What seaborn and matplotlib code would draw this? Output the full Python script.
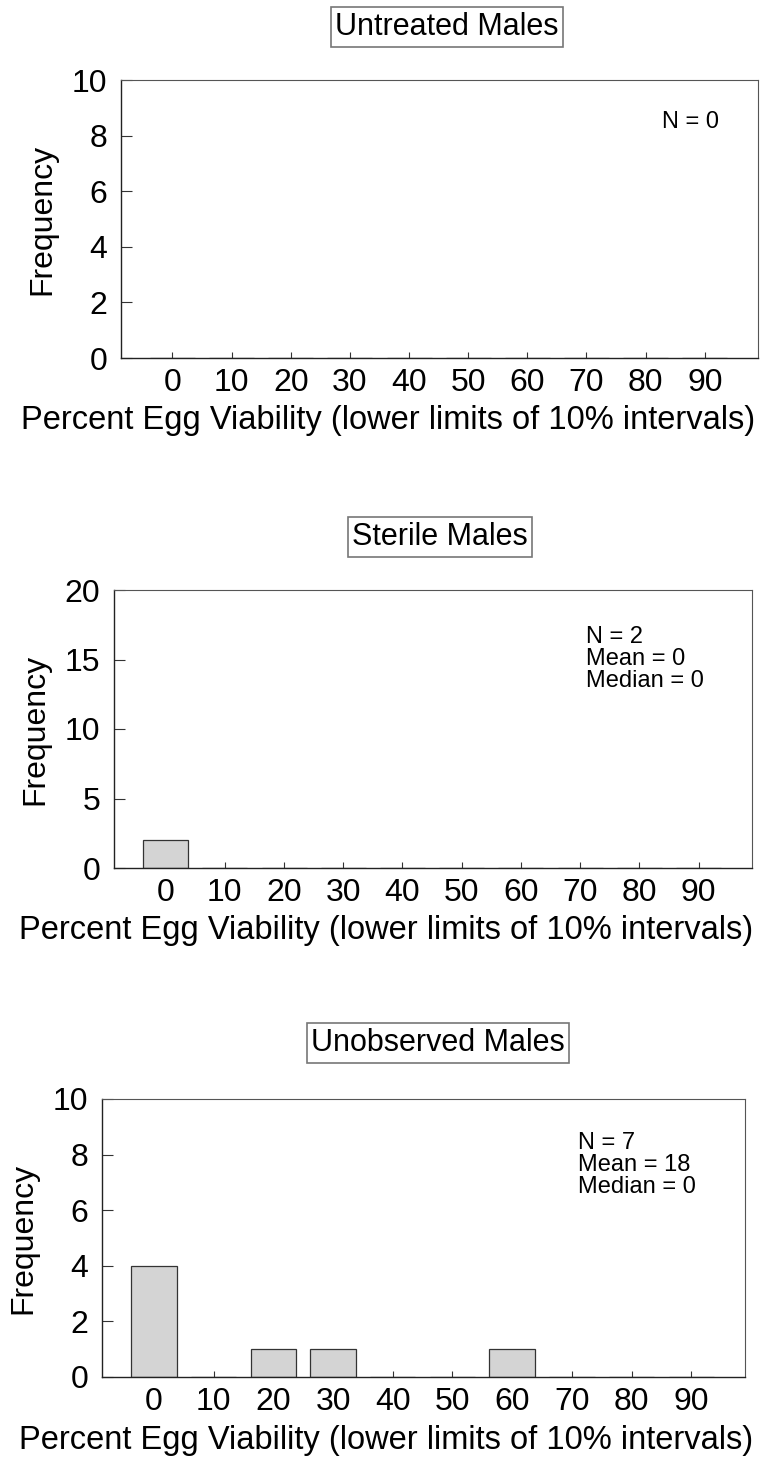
import matplotlib
matplotlib.use("Agg")
import matplotlib.pyplot as plt
import seaborn as sns
import pandas as pd

sns.set_theme(style="white")
plt.rcParams['font.family'] = ['Liberation Sans', 'DejaVu Sans']

categories = ["0", "10", "20", "30", "40", "50", "60", "70", "80", "90"]
untreated = [0, 0, 0, 0, 0, 0, 0, 0, 0, 0]
sterile = [2, 0, 0, 0, 0, 0, 0, 0, 0, 0]
unobserved = [4, 0, 1, 1, 0, 0, 1, 0, 0, 0]

titles = ["Untreated Males", "Sterile Males", "Unobserved Males"]
stats = ["N = 0", "N = 2\nMean = 0\nMedian = 0", "N = 7\nMean = 18\nMedian = 0"]
ymax = [10, 20, 10]
ystep = [2, 5, 2]
series = [untreated, sterile, unobserved]

W, H = 765, 1470
fig = plt.figure(figsize=(W / 100, H / 100), dpi=100)

# pixel boxes: left, right, top, bottom
boxes = [(121, 758, 80, 358), (114, 752, 590, 868), (102, 745, 1099, 1377)]
title_pos = [(447, 27), (440, 537), (438, 1043)]
stat_pos = [(0.85, 0.89), (0.74, 0.87), (0.74, 0.88)]
xlabel_cx = [388, 386, 386]

for i in range(3):
    l, r, t, b = boxes[i]
    ax = fig.add_axes([l / W, 1 - b / H, (r - l) / W, (b - t) / H])
    df = pd.DataFrame({"cat": categories, "freq": series[i]})
    sns.barplot(data=df, x="cat", y="freq", order=categories, ax=ax,
                color="#d4d4d4", saturation=1, width=0.76,
                edgecolor="#333333", linewidth=0.9, zorder=2)
    ax.set_axisbelow(True)
    ax.set_xlim(-0.87, 9.9)
    ax.set_ylim(0, ymax[i])
    ax.set_yticks(list(range(0, ymax[i] + 1, ystep[i])))
    ax.tick_params(axis="y", left=True, direction="in", length=8, width=0.8,
                   labelsize=23, pad=10, colors="#333333", labelcolor="black")
    ax.tick_params(axis="x", bottom=True, direction="in", length=4, width=0.8,
                   labelsize=23, pad=7, colors="#333333", labelcolor="black")
    for s in ["left", "bottom"]:
        ax.spines[s].set_color("#222222")
        ax.spines[s].set_linewidth(1.0)
    for s in ["top", "right"]:
        ax.spines[s].set_color("#555555")
        ax.spines[s].set_linewidth(0.8)
    ax.set_xlabel("Percent Egg Viability (lower limits of 10% intervals)",
                  fontsize=23.5, color="black")
    ax.xaxis.set_label_coords((xlabel_cx[i] - l) / (r - l), -63 / (b - t))
    ax.xaxis.label.set_va("center")
    ax.set_ylabel("Frequency", fontsize=23, labelpad=10, color="black")
    ax.text(stat_pos[i][0], stat_pos[i][1], stats[i], transform=ax.transAxes,
            fontsize=17, va="top", ha="left", linespacing=1.0, color="black")
    tx, ty = title_pos[i]
    fig.text(tx / W, 1 - ty / H, titles[i], fontsize=22, ha="center",
             va="center", color="black",
             bbox=dict(boxstyle="square,pad=0.15", facecolor="white",
                       edgecolor="#777777", linewidth=1.2))

fig.savefig("out.png", dpi=100, facecolor="white")
